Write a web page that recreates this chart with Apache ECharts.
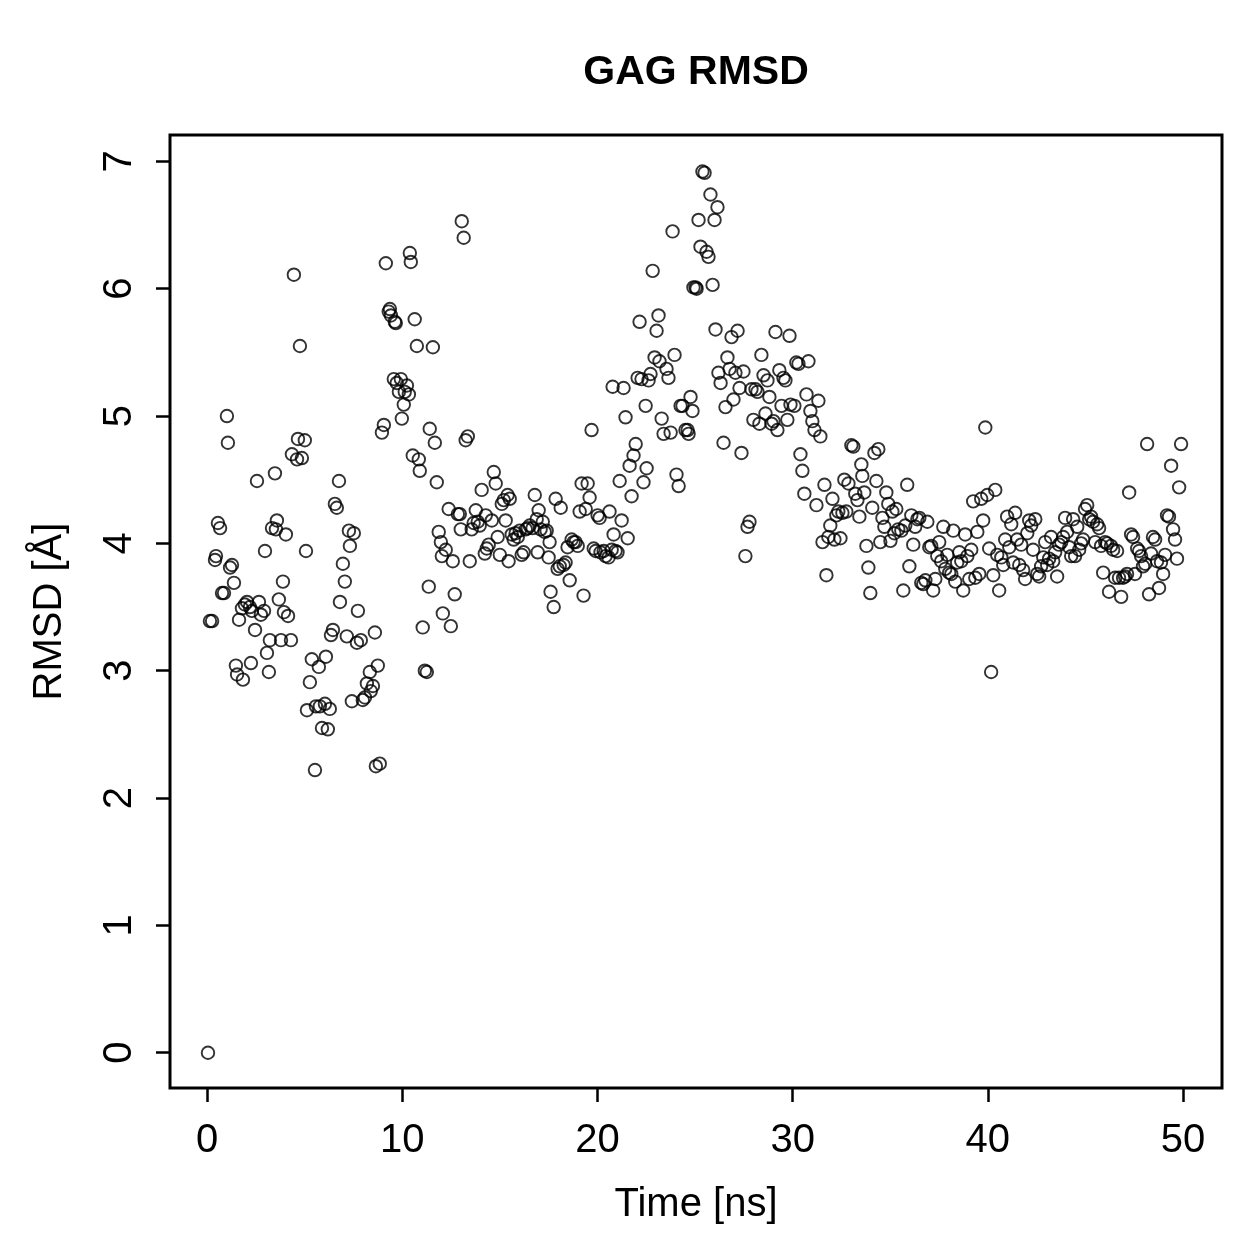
<!DOCTYPE html>
<html>
<head>
<meta charset="utf-8">
<title>GAG RMSD</title>
<script src="https://cdn.jsdelivr.net/npm/echarts@6/dist/echarts.min.js"></script>
<style>
  html, body { margin: 0; padding: 0; background: #fff; }
  #chart { width: 1259px; height: 1259px; }
</style>
</head>
<body>
<div id="chart"></div>
<script>
// time (ns) and RMSD (Å)
var timeNs = [
  0.05,0.15,0.26,0.41,0.46,0.56,0.67,0.77,0.87,1.02,1.07,1.18,1.28,1.38,1.48,1.54,1.64,1.79,1.84,1.94,
  2.05,2.20,2.30,2.25,2.46,2.56,2.66,2.76,2.92,2.97,3.07,3.17,3.22,3.33,3.48,3.53,3.58,3.68,3.79,3.89,
  3.94,4.04,4.15,4.30,4.35,4.45,4.61,4.66,4.76,4.86,5.01,5.07,
  5.12,5.27,5.37,5.53,5.58,5.73,5.78,5.89,6.04,6.09,6.19,6.29,6.35,6.45,6.55,6.65,6.76,6.81,6.96,7.06,
  7.16,7.27,7.32,7.42,7.52,7.68,7.73,7.88,7.98,8.09,8.19,8.34,8.39,8.50,8.60,8.65,8.75,8.85,8.96,9.06,
  9.16,9.31,9.37,9.42,9.57,9.62,9.67,9.72,9.83,9.93,9.98,10.08,
  10.13,10.24,10.34,10.39,10.44,10.54,10.64,10.75,10.85,10.90,11.05,11.16,11.26,11.36,11.41,11.57,11.67,
  11.77,11.87,11.98,12.03,12.08,12.23,12.38,12.49,12.59,12.69,12.85,12.95,13.00,13.05,13.15,13.25,13.36,
  13.46,13.56,13.66,13.77,13.87,13.97,14.07,14.23,14.28,14.33,14.43,14.59,14.69,14.79,14.89,15.00,
  15.10,15.20,15.30,15.40,15.45,15.51,15.61,15.71,15.81,15.92,16.02,16.12,16.22,16.33,16.43,16.53,16.68,
  16.79,16.89,16.94,16.99,17.09,17.20,17.30,17.40,17.50,17.55,17.60,17.76,17.86,17.96,18.07,18.12,18.27,
  18.37,18.47,18.58,18.68,18.78,18.88,18.99,19.09,19.19,19.29,19.40,19.50,19.60,19.70,19.81,19.91,
  20.01,20.11,20.16,20.32,20.42,20.57,20.62,20.73,20.78,20.83,20.93,21.03,21.14,21.24,21.34,21.44,21.55,
  21.65,21.75,21.85,21.96,22.06,22.16,22.26,22.36,22.47,22.52,22.62,22.72,22.83,22.93,23.03,23.13,23.18,
  23.29,23.39,23.54,23.64,23.75,23.85,23.95,24.05,24.16,24.26,24.36,24.51,24.62,24.67,24.77,24.87,
  24.92,25.03,25.08,25.18,25.28,25.38,25.49,25.59,25.69,25.79,25.90,26.00,26.05,26.15,26.20,26.31,26.46,
  26.56,26.66,26.77,26.87,26.97,27.07,27.18,27.28,27.38,27.48,27.58,27.69,27.79,27.89,27.99,28.10,28.20,
  28.30,28.40,28.51,28.61,28.71,28.81,28.92,29.02,29.12,29.22,29.32,29.43,29.53,29.63,29.73,29.84,29.89,
  30.09,30.19,30.30,30.40,30.50,30.60,30.71,30.81,30.91,31.01,31.12,31.22,31.32,31.42,31.53,31.63,31.73,
  31.83,31.93,32.04,32.14,32.24,32.34,32.45,32.55,32.65,32.75,32.86,33.01,33.11,33.21,33.32,33.42,33.52,
  33.57,33.67,33.78,33.88,33.98,34.08,34.19,34.29,34.39,34.49,34.60,34.70,34.80,34.90,
  35.01,35.11,35.21,35.31,35.41,35.57,35.67,35.77,35.87,35.98,36.08,36.18,36.28,36.39,36.49,36.59,36.69,
  36.80,36.90,37.00,37.10,37.20,37.31,37.41,37.51,37.61,37.72,37.82,37.92,38.02,38.13,38.23,38.33,38.43,
  38.54,38.64,38.74,38.84,38.95,39.05,39.15,39.25,39.36,39.46,39.56,39.66,39.76,39.87,39.97,
  40.07,40.17,40.28,40.38,40.48,40.58,40.69,40.79,40.89,40.99,41.10,41.20,41.30,41.40,41.50,41.61,41.71,
  41.81,41.91,42.02,42.12,42.22,42.32,42.43,42.53,42.63,42.73,42.84,42.94,43.04,43.14,43.24,43.35,43.45,
  43.55,43.65,43.76,43.86,43.96,44.06,44.17,44.27,44.37,44.47,44.58,44.68,44.78,44.88,
  44.98,45.09,45.19,45.29,45.39,45.50,45.60,45.70,45.80,45.91,46.01,46.11,46.21,46.31,46.42,46.52,46.62,
  46.72,46.83,46.93,47.03,47.13,47.24,47.34,47.44,47.54,47.65,47.75,47.85,47.95,48.06,48.16,48.26,48.36,
  48.46,48.57,48.67,48.77,48.87,48.98,49.08,49.18,49.28,49.39,49.49,49.59,49.69,49.80,49.90
];
var rmsd = [
  0.00,3.39,3.39,3.87,3.90,4.16,4.12,3.61,3.61,5.00,4.79,3.81,3.83,3.69,3.04,2.97,3.40,3.49,2.93,3.52,
  3.54,3.50,3.47,3.06,3.32,4.49,3.54,3.44,3.47,3.94,3.14,2.99,3.24,4.12,4.55,4.11,4.18,3.56,3.24,3.70,
  3.46,4.07,3.43,3.24,4.70,6.11,4.66,4.82,5.55,4.67,4.81,3.94,
  2.69,2.91,3.09,2.22,2.72,3.03,2.72,2.55,2.74,3.11,2.54,2.70,3.28,3.32,4.31,4.28,4.49,3.54,3.84,3.70,
  3.27,4.10,3.98,2.76,4.08,3.22,3.47,3.24,2.77,2.79,2.90,2.99,2.84,2.88,3.30,2.25,3.04,2.27,4.87,4.93,
  6.20,5.82,5.84,5.79,5.29,5.74,5.73,5.26,5.19,5.29,4.98,5.09,
  5.19,5.24,5.17,6.28,6.21,4.69,5.76,5.55,4.66,4.57,3.34,3.00,2.99,3.66,4.90,5.54,4.79,
  4.48,4.09,4.01,3.90,3.45,3.95,4.27,3.35,3.86,3.60,4.23,4.23,4.11,6.53,6.40,4.81,4.84,
  3.86,4.11,4.16,4.26,4.17,4.14,4.42,3.92,4.22,3.96,3.99,4.18,4.56,4.47,4.05,3.91,
  4.31,4.34,4.18,4.38,3.86,4.35,4.07,4.03,4.08,4.05,4.10,3.91,3.93,4.11,4.12,4.14,4.12,
  4.38,4.19,3.93,4.26,4.11,4.17,4.09,4.10,3.89,4.01,3.62,3.50,4.35,3.80,3.82,4.28,3.83,
  3.85,3.97,3.71,4.03,4.01,4.01,3.98,4.25,4.47,3.59,4.27,4.47,4.36,4.89,3.96,3.94,
  4.22,4.20,3.93,3.94,3.90,3.89,4.25,3.95,5.23,4.07,3.94,3.93,4.49,4.18,5.22,4.99,4.04,
  4.61,4.37,4.69,4.78,5.30,5.74,5.29,4.48,5.08,4.59,5.28,5.33,6.14,5.46,5.67,5.79,5.43,
  4.98,4.86,5.37,5.30,4.87,6.45,5.48,4.54,4.45,5.08,5.08,4.89,4.89,4.86,5.15,5.04,
  6.01,6.01,6.00,6.54,6.33,6.92,6.91,6.29,6.25,6.74,6.03,6.54,5.68,6.64,5.34,5.26,4.79,
  5.07,5.46,5.37,5.62,5.13,5.34,5.67,5.22,4.71,5.35,3.90,4.13,4.17,5.21,4.97,5.21,5.19,
  4.94,5.48,5.32,5.02,5.28,5.15,4.94,4.96,5.66,4.89,5.36,5.08,5.30,5.28,4.97,5.63,5.09,
  5.08,5.42,5.41,4.70,4.57,4.39,5.17,5.43,5.04,4.96,4.89,4.30,5.12,4.84,4.01,4.46,3.75,
  4.05,4.14,4.35,4.03,4.22,4.25,4.04,4.24,4.50,4.25,4.47,4.77,4.76,4.39,4.34,4.21,4.62,
  4.53,4.40,3.98,3.81,3.61,4.28,4.71,4.49,4.74,4.01,4.20,4.13,4.40,4.31,
  4.02,4.25,4.08,4.27,4.11,4.10,3.63,4.14,4.46,3.82,4.22,3.99,4.13,4.19,4.20,3.69,3.68,
  3.71,4.17,3.97,3.98,3.63,3.72,3.90,4.01,3.86,4.13,3.80,3.91,3.77,3.76,4.10,3.70,3.85,
  3.93,3.86,3.63,4.07,3.90,3.72,3.95,4.33,3.73,4.09,3.76,4.35,4.18,4.91,4.38,
  3.96,2.99,3.75,4.42,3.91,3.63,3.89,3.83,4.03,4.21,3.97,4.15,3.85,4.24,4.03,3.83,3.99,
  3.79,3.72,4.08,4.18,4.14,3.95,4.19,3.76,3.74,3.82,3.89,4.01,3.83,3.88,4.05,3.86,3.93,
  3.74,3.99,4.01,4.05,4.20,4.09,3.97,3.90,4.19,3.90,4.13,3.95,4.00,4.03,
  4.27,4.30,4.19,4.21,4.17,4.01,4.15,4.12,3.98,3.77,4.01,4.00,3.62,3.98,3.95,3.73,3.94,
  3.73,3.58,3.73,3.74,3.76,4.40,4.07,4.05,3.76,3.96,3.94,3.90,3.82,3.84,4.78,3.60,3.92,
  4.05,4.03,3.86,3.65,3.85,3.76,3.91,4.22,4.21,4.61,4.11,4.03,3.88,4.44,4.78
];
var xTicks = [0, 10, 20, 30, 40, 50];
var yTicks = [0, 1, 2, 3, 4, 5, 6, 7];

var font = '"Liberation Sans", Arial, Helvetica, sans-serif';
var pts = timeNs.map(function (t, i) { return [t, rmsd[i]]; });

var chart = echarts.init(document.getElementById('chart'), null, { renderer: 'canvas' });
chart.setOption({
  animation: false,
  backgroundColor: '#fff',
  graphic: [{
    type: 'text', x: 696, y: 52,
    style: { text: 'GAG RMSD', textAlign: 'center', fill: '#000', font: 'bold 41px ' + font }
  }],
  grid: {
    left: 170, right: 37, top: 135, bottom: 171,
    show: true, borderColor: '#000', borderWidth: 3, backgroundColor: 'transparent'
  },
  xAxis: {
    type: 'value', min: -1.896, max: 51.996,
    name: 'Time [ns]', nameLocation: 'middle', nameGap: 97,
    nameTextStyle: { fontSize: 40, color: '#000', fontFamily: font },
    axisLine: { show: false, onZero: false },
    splitLine: { show: false },
    axisTick: { show: true, customValues: xTicks, length: 14, lineStyle: { color: '#000', width: 2.5 } },
    axisLabel: { customValues: xTicks, fontSize: 40, color: '#000', fontFamily: font, margin: 33 }
  },
  yAxis: {
    type: 'value', min: -0.277, max: 7.207,
    name: 'RMSD [Å]', nameLocation: 'middle', nameGap: 100, nameRotate: 90,
    nameTextStyle: { fontSize: 40, color: '#000', fontFamily: font },
    axisLine: { show: false, onZero: false },
    splitLine: { show: false },
    axisTick: { show: true, customValues: yTicks, length: 14, lineStyle: { color: '#000', width: 2.5 } },
    axisLabel: { customValues: yTicks, rotate: 90, fontSize: 40, color: '#000', fontFamily: font, margin: 30 }
  },
  series: [{
    type: 'scatter',
    data: pts,
    symbol: 'circle',
    symbolSize: 12.5,
    itemStyle: { color: 'transparent', borderColor: '#000', borderWidth: 1.9 },
    emphasis: { disabled: true }
  }]
});
</script>
</body>
</html>
